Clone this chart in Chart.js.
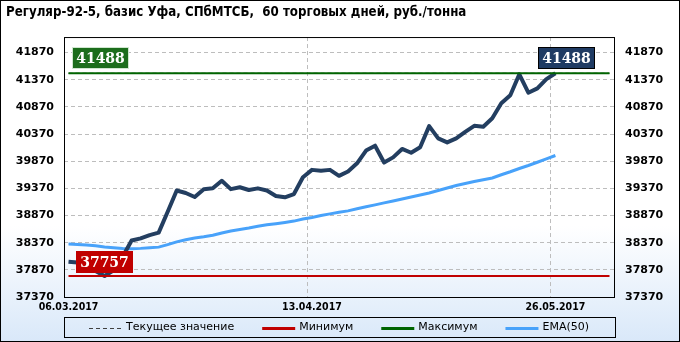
<!DOCTYPE html>
<html lang="ru">
<head>
<meta charset="utf-8">
<title>Регуляр-92-5, базис Уфа</title>
<script src="https://cdn.jsdelivr.net/npm/chart.js@4.4.1/dist/chart.umd.min.js"></script>
<style>
  html, body { margin: 0; padding: 0; background: #fff; }
  #box {
    position: relative;
    width: 680px;
    height: 342px;
    background: linear-gradient(to bottom, #ffffff 0%, #ffffff 66%, #d9e8f9 100%);
  }
  canvas { display: block; }
</style>
</head>
<body>
<div id="box"><canvas id="chart" width="680" height="342"></canvas></div>
<script>
// ось X: 61 слот, подписи только у трёх дат
const nSlots = 61;
const dateTicks = ['06.03.2017', '13.04.2017', '26.05.2017'];
const dateTickIdx = [0, 27, 54];

// ось Y
const yTicks = [37370, 37870, 38370, 38870, 39370, 39870, 40370, 40870, 41370, 41870];
const yMin = 37370;
const yMax = 42155;

// цена, руб./тонна
const price = [
  38020, 38005, 37950, 37850, 37757, 37860, 38110, 38410, 38450, 38510,
  38555, 38940, 39330, 39285, 39210, 39355, 39370, 39510, 39355, 39390,
  39340, 39370, 39330, 39230, 39205, 39265, 39575, 39710, 39695, 39710,
  39600, 39680, 39830, 40065, 40155, 39845, 39940, 40095, 40025, 40125,
  40515, 40290, 40215, 40290, 40410, 40520, 40505, 40660, 40935, 41085,
  41470, 41130, 41210, 41380, 41488
];

// EMA(50)
const ema50 = [
  38345, 38338, 38328, 38315, 38292, 38276, 38263, 38260, 38265, 38275,
  38288, 38335, 38385, 38425, 38455, 38478, 38506, 38548, 38585, 38612,
  38640, 38672, 38698, 38720, 38742, 38767, 38805, 38835, 38870, 38900,
  38930, 38955, 38995, 39030, 39066, 39102, 39138, 39175, 39210, 39246,
  39285, 39330, 39377, 39423, 39460, 39495, 39528, 39560, 39620, 39675,
  39735, 39790, 39850, 39912, 39975
];

const minVal = 37757;
const maxVal = 41488;
const curVal = 41488;
const minIdx = 4;

const xLabels = [];
for (let i = 0; i < nSlots; i++) {
  const k = dateTickIdx.indexOf(i);
  xLabels.push(k >= 0 ? dateTicks[k] : '');
}
const flat = v => xLabels.map(() => v);

const tickFont = { family: "'DejaVu Sans', sans-serif", weight: 'bold', size: 11 };
const gridGrey = '#bdbdbd';

function tag(ctx, text, x, yBottom, fill, stroke, centered) {
  ctx.font = 'bold 14px "DejaVu Serif", serif';
  const w = Math.round(ctx.measureText(text).width) + 8;
  const h = 22;
  const left = Math.round(centered ? x - w / 2 : x);
  const top = Math.round(yBottom - h);
  ctx.fillStyle = fill;
  ctx.fillRect(left, top, w, h);
  if (stroke) {
    ctx.strokeStyle = stroke;
    ctx.lineWidth = 1;
    ctx.strokeRect(left + 0.5, top + 0.5, w - 1, h - 1);
  }
  ctx.fillStyle = '#fff';
  ctx.textAlign = 'center';
  ctx.textBaseline = 'middle';
  ctx.fillText(text, left + w / 2, top + h / 2 + 1);
}

const extras = {
  id: 'extras',
  afterDraw(chart) {
    const { ctx, chartArea: a, scales } = chart;
    const xs = scales.x, ys = scales.y;
    ctx.save();

    // рамки
    ctx.strokeStyle = '#000';
    ctx.lineWidth = 1;
    ctx.strokeRect(a.left + 0.5, a.top + 0.5, a.right - a.left, a.bottom - a.top);
    ctx.strokeRect(0.5, 0.5, chart.width - 1, chart.height - 1);

    // подписи значений
    tag(ctx, String(maxVal), a.left + 8, ys.getPixelForValue(maxVal) - 4, '#1c6d1c', '#cfe6cf', false);
    tag(ctx, String(minVal), xs.getPixelForValue(minIdx), ys.getPixelForValue(minVal) - 3, '#c00000', null, true);
    tag(ctx, String(curVal), xs.getPixelForValue(price.length - 1) - 17, ys.getPixelForValue(curVal) - 4, '#1f3b63', '#000', false);

    // легенда
    const items = chart.data.datasets.filter(d => d.inLegend);
    ctx.font = "11px 'DejaVu Sans', sans-serif";
    const symW = 33, gap = 4, itemGap = 28;
    const widths = items.map(d => symW + gap + ctx.measureText(d.label).width);
    const total = widths.reduce((s, w) => s + w, 0) + itemGap * (items.length - 1);
    const top = a.bottom + 20, h = 20, yc = top + h / 2 + 0.5;
    ctx.strokeStyle = '#000';
    ctx.lineWidth = 1;
    ctx.strokeRect(a.left + 0.5, top + 0.5, a.right - a.left + 1, h);
    let x = Math.round((a.left + a.right) / 2 - total / 2);
    items.forEach((d, i) => {
      ctx.beginPath();
      ctx.strokeStyle = d.borderColor;
      ctx.lineWidth = d.legendWidth;
      ctx.setLineDash(d.borderDash || []);
      ctx.moveTo(x, Math.round(yc) + (d.legendWidth % 2 ? 0.5 : 0));
      ctx.lineTo(x + symW, Math.round(yc) + (d.legendWidth % 2 ? 0.5 : 0));
      ctx.stroke();
      ctx.setLineDash([]);
      ctx.fillStyle = '#000';
      ctx.textAlign = 'left';
      ctx.textBaseline = 'middle';
      ctx.fillText(d.label, x + symW + gap, yc);
      x += widths[i] + itemGap;
    });
    ctx.restore();
  }
};

new Chart(document.getElementById('chart'), {
  type: 'line',
  data: {
    labels: xLabels,
    datasets: [
      { label: 'Текущее значение', data: flat(curVal), borderColor: '#404040', borderWidth: 1,
        borderDash: [4, 3], pointRadius: 0, order: 2, inLegend: true, legendWidth: 1 },
      { label: 'Минимум', data: flat(minVal), borderColor: '#c00000', borderWidth: 2,
        pointRadius: 0, order: 1, inLegend: true, legendWidth: 3 },
      { label: 'Максимум', data: flat(maxVal), borderColor: '#006400', borderWidth: 2,
        pointRadius: 0, order: 0, inLegend: true, legendWidth: 3 },
      { label: 'EMA(50)', data: ema50, borderColor: '#48a2fa', borderWidth: 3,
        pointRadius: 0, order: 4, inLegend: true, legendWidth: 3 },
      { label: 'Цена', data: price, borderColor: '#233e60', borderWidth: 4,
        borderJoinStyle: 'round', pointRadius: 0, order: 3 }
    ]
  },
  options: {
    responsive: false,
    animation: false,
    devicePixelRatio: 1,
    events: [],
    layout: { padding: { left: 6, right: 0, top: 0, bottom: 31 } },
    plugins: {
      legend: { display: false },
      tooltip: { enabled: false },
      title: {
        display: true,
        text: 'Регуляр-92-5, базис Уфа, СПбМТСБ,  60 торговых дней, руб./тонна',
        align: 'start',
        color: '#000',
        font: { family: "'DejaVu Sans Condensed', 'DejaVu Sans', sans-serif", weight: 'bold', size: 13.2 },
        padding: { top: 5, bottom: 16.2 }
      }
    },
    scales: {
      x: {
        type: 'category',
        offset: true,
        afterFit: s => { s.height = 14; },
        grid: {
          offset: true,
          drawTicks: false,
          color: c => (dateTickIdx.includes(c.index) && c.index > 0) ? gridGrey : 'rgba(0,0,0,0)'
        },
        border: { display: false, dash: [4, 3] },
        ticks: {
          autoSkip: false, maxRotation: 0, minRotation: 0, padding: 4, color: '#000',
          font: { family: "'DejaVu Sans Condensed', 'DejaVu Sans', sans-serif", weight: 'bold', size: 10.5 },
          callback: (v, i) => xLabels[i]
        }
      },
      y: {
        position: 'left',
        min: yMin,
        max: yMax,
        afterBuildTicks: s => { s.ticks = yTicks.map(v => ({ value: v })); },
        afterFit: s => { s.width = 58; },
        grid: { color: gridGrey, drawTicks: false },
        border: { display: false, dash: [4, 3] },
        ticks: { padding: 10, color: '#000', font: tickFont, callback: v => String(v) }
      },
      y2: {
        position: 'right',
        min: yMin,
        max: yMax,
        afterBuildTicks: s => { s.ticks = yTicks.map(v => ({ value: v })); },
        afterFit: s => { s.width = 66; },
        grid: { display: false, drawTicks: false },
        border: { display: false },
        ticks: { padding: 11, color: '#000', font: tickFont, callback: v => String(v) }
      }
    }
  },
  plugins: [extras]
});
</script>
</body>
</html>
